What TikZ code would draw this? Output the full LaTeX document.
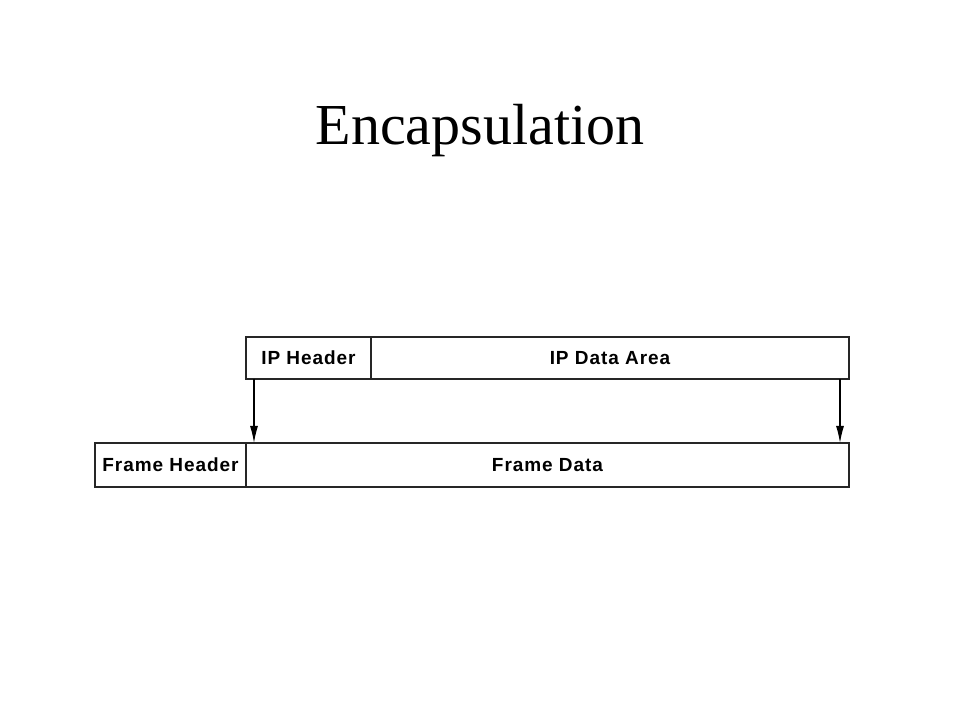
\documentclass[tikz,border=0pt]{standalone}
\usepackage{fontspec}
\setmainfont{Liberation Serif}
\newfontfamily\boxfont[LetterSpace=5]{Liberation Sans}
\usetikzlibrary{arrows.meta}

\begin{document}
\begin{tikzpicture}[x=1pt,y=1pt,
  field node/.style={rectangle,draw=black!85,line width=1.6pt,inner sep=0pt,outer sep=0pt,
    font=\boxfont\bfseries\fontsize{19}{19}\selectfont},
  down arrow/.style={-{Latex[length=17pt,width=8pt]},line width=1.2pt}]
  \useasboundingbox (0,0) rectangle (960,720);

  \node[font=\fontsize{58}{58}\selectfont] (title) at (480,589) {Encapsulation};

  \node[field node,minimum width=125,minimum height=42] (iphdr) at (308.5,362) {IP Header};
  \node[field node,minimum width=478,minimum height=42] (ipdata) at (610,362) {IP Data Area};
  \node[field node,minimum width=151,minimum height=44] (frhdr) at (170.5,255) {Frame Header};
  \node[field node,minimum width=603,minimum height=44] (frdata) at (547.5,255) {Frame Data};

  \coordinate (s1) at (254,341);
  \coordinate (e1) at (254,277);
  \coordinate (s2) at (840,341);
  \coordinate (e2) at (840,277);
 \path[]
 (s1) [down arrow] edge node [] {} (e1)
 (s2) [down arrow] edge node [] {} (e2);

\end{tikzpicture}
\end{document}
